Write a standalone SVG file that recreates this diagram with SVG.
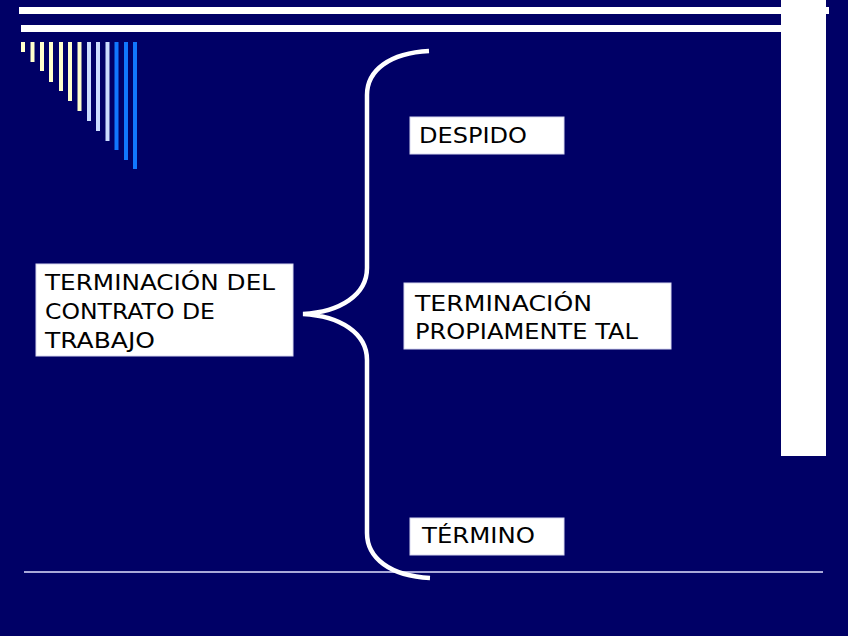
<svg xmlns="http://www.w3.org/2000/svg" width="848" height="636" viewBox="0 0 848 636">
<style>
.box{fill:#ffffff;stroke:#d8d8f0;stroke-width:1}
.t{font-family:"DejaVu Sans","Liberation Sans",sans-serif;font-size:21px;fill:#000000}
.cream{fill:#FFFFCC}
.lb{fill:#CCDDFF}
.bl{fill:#1177FF}
</style>
<rect x="0" y="0" width="848" height="636" fill="#000066"/>
<g id="decor">
<rect x="19" y="7" width="810" height="7" fill="#ffffff"/>
<rect x="21" y="25" width="762" height="7" fill="#ffffff"/>
<rect x="781" y="0" width="45" height="456" fill="#ffffff"/>
<rect class="cream" x="21" y="42" width="4" height="10"/>
<rect class="cream" x="30.5" y="42" width="4" height="20"/>
<rect class="cream" x="40" y="42" width="4" height="29"/>
<rect class="cream" x="49" y="42" width="4" height="40"/>
<rect class="cream" x="59" y="42" width="4" height="49"/>
<rect class="cream" x="68" y="42" width="4" height="59"/>
<rect class="cream" x="77.5" y="42" width="4" height="69"/>
<rect class="lb" x="87" y="42" width="4" height="79"/>
<rect class="lb" x="96" y="42" width="4" height="89"/>
<rect class="lb" x="105.5" y="42" width="4" height="99"/>
<rect class="bl" x="114.5" y="42" width="4" height="108"/>
<rect class="bl" x="124" y="42" width="4" height="118"/>
<rect class="bl" x="133" y="42" width="4" height="127"/>
<line x1="24" y1="572" x2="823" y2="572" stroke="#A8A8D8" stroke-width="2"/>
</g>
<g id="connectors">
<path d="M 429 51 C 390 53, 367 70, 367 95 L 367 268 C 367 295, 340 312, 303 314 C 340 316, 367 333, 367 360 L 367 533 C 367 558, 390 576, 430 578" fill="none" stroke="#ffffff" stroke-width="4.5" stroke-linecap="butt"/>
</g>
<g id="node-terminacion-contrato">
<rect class="box" x="36" y="264" width="257" height="92"/>
<text class="t" x="45" y="290" textLength="230" lengthAdjust="spacingAndGlyphs">TERMINACIÓN DEL</text>
<text class="t" x="45" y="319" textLength="170" lengthAdjust="spacingAndGlyphs">CONTRATO DE</text>
<text class="t" x="45" y="348" textLength="110" lengthAdjust="spacingAndGlyphs">TRABAJO</text>
</g>
<g id="node-despido">
<rect class="box" x="410" y="117" width="154" height="37"/>
<text class="t" x="419" y="143" textLength="108" lengthAdjust="spacingAndGlyphs">DESPIDO</text>
</g>
<g id="node-terminacion-propiamente">
<rect class="box" x="404" y="283" width="267" height="66"/>
<text class="t" x="415" y="311" textLength="177" lengthAdjust="spacingAndGlyphs">TERMINACIÓN</text>
<text class="t" x="415" y="339" textLength="223" lengthAdjust="spacingAndGlyphs">PROPIAMENTE TAL</text>
</g>
<g id="node-termino">
<rect class="box" x="410" y="518" width="154" height="37"/>
<text class="t" x="422" y="543" textLength="113" lengthAdjust="spacingAndGlyphs">TÉRMINO</text>
</g>
</svg>
